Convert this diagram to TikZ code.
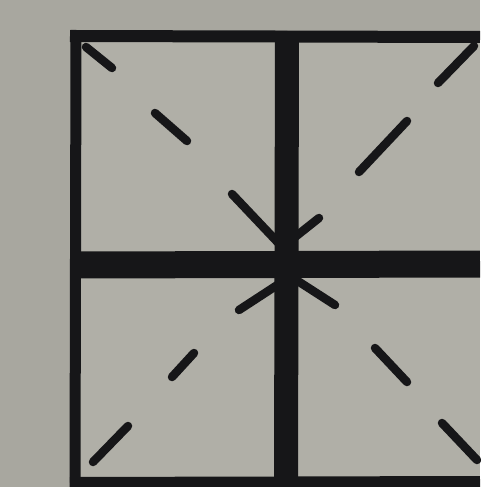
\documentclass[tikz,border=0pt]{standalone}
\definecolor{paper}{RGB}{168,167,159}
\definecolor{inner}{RGB}{176,175,167}
\definecolor{ink}{RGB}{22,22,24}
\begin{document}
\begin{tikzpicture}[x=1pt,y=-1pt,
  frame/.style={draw=ink,line cap=butt},
  dashmark/.style={draw=ink,line width=8.5pt,line cap=round}]
\fill[paper] (0,0) rectangle (480,487);
\useasboundingbox (0,0) rectangle (480,487);
\fill[inner] (80,42) rectangle (480,478);
% outer frame
\draw[frame,line width=11pt] (76,30) -- (75,487);
\draw[frame,line width=12pt] (70,36) -- (480,37);
\draw[frame,line width=12pt] (70,483) -- (480,482);
% middle cross
\draw[frame,line width=24pt] (287,31) -- (286,487);
\draw[frame,line width=27pt] (72,265) -- (480,264);
% diagonal dashes, upper left
\draw[dashmark] (86,47) -- (112,68);
\draw[dashmark] (155,113) -- (187,141);
\draw[dashmark] (232,194) -- (285,250);
% upper right
\draw[dashmark] (474,46) -- (438,83);
\draw[dashmark] (407,121) -- (359,172);
\draw[dashmark] (285,245) -- (319,218);
% lower left
\draw[dashmark] (285,280) -- (239,310);
\draw[dashmark] (194,353) -- (172,377);
\draw[dashmark] (128,426) -- (93,462);
% lower right
\draw[dashmark] (290,276) -- (335,305);
\draw[dashmark] (375,348) -- (407,382);
\draw[dashmark] (442,423) -- (477,460);
\end{tikzpicture}
\end{document}
